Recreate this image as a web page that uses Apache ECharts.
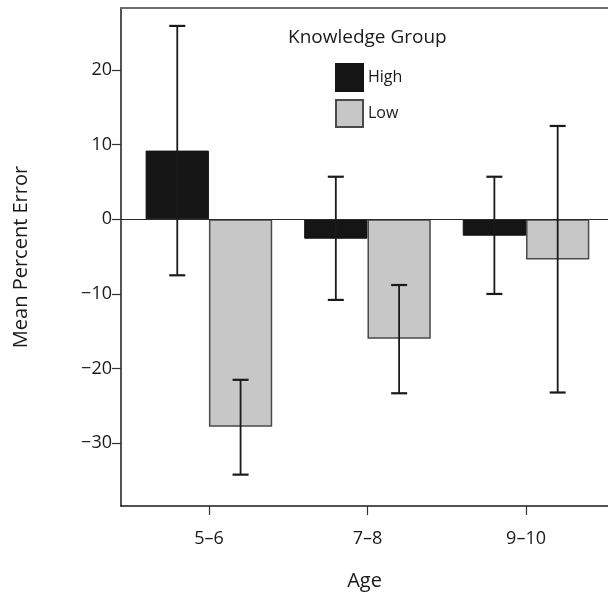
<!DOCTYPE html>
<html>
<head>
<meta charset="utf-8">
<script src="https://cdn.jsdelivr.net/npm/echarts@6/dist/echarts.min.js"></script>
<style>html,body{margin:0;padding:0;background:#fff;}#c{width:608px;height:594px;}</style>
</head>
<body>
<div id="c"></div>
<script>
const categories = ['5–6', '7–8', '9–10'];
const categoryPositions = [1, 2, 3];
const highMean = [9.2, -2.6, -2.2];
const highLower = [-7.5, -10.8, -10.0];
const highUpper = [25.9, 5.7, 5.7];
const lowMean = [-27.8, -16.0, -5.4];
const lowLower = [-34.2, -23.3, -23.2];
const lowUpper = [-21.5, -8.8, 12.5];
const yTicks = [-30, -20, -10, 0, 10, 20];
const seriesNames = ['High', 'Low'];

const FONT = 'Open Sans';
const BAR_W = 63.3;

function errData(lower, upper) {
  return categoryPositions.map((x, i) => [x, lower[i], upper[i]]);
}
function errRender(sign) {
  return function (params, api) {
    const x = api.value(0);
    const a = api.coord([x, api.value(2)]);
    const b = api.coord([x, api.value(1)]);
    const cx = a[0] + sign * BAR_W / 2;
    const cap = 8;
    return {
      type: 'group',
      children: [
        { type: 'line', shape: { x1: cx, y1: a[1], x2: cx, y2: b[1] }, style: { stroke: '#1a1a1a', lineWidth: 1.8 } },
        { type: 'line', shape: { x1: cx - cap, y1: a[1], x2: cx + cap, y2: a[1] }, style: { stroke: '#1a1a1a', lineWidth: 2.2 } },
        { type: 'line', shape: { x1: cx - cap, y1: b[1], x2: cx + cap, y2: b[1] }, style: { stroke: '#1a1a1a', lineWidth: 2.2 } }
      ]
    };
  };
}

const chart = echarts.init(document.getElementById('c'), null, { renderer: 'canvas' });
const xMin = 0.4455, xMax = 3.517;
chart.setOption({
  animation: false,
  backgroundColor: '#fff',
  textStyle: { fontFamily: FONT },
  title: {
    text: 'Knowledge Group',
    left: 283, top: 23,
    textStyle: { fontFamily: FONT, fontSize: 19, fontWeight: 'normal', color: '#1a1a1a' }
  },
  legend: {
    data: seriesNames,
    orient: 'vertical',
    left: 330, top: 58,
    itemWidth: 27, itemHeight: 27, itemGap: 7,
    icon: 'rect',
    textStyle: { fontFamily: FONT, fontSize: 16, color: '#1a1a1a' }
  },
  grid: { left: 121, right: 0, top: 8, bottom: 88, containLabel: false, outerBoundsMode: 'none' },
  xAxis: [{
    type: 'value',
    min: xMin, max: xMax,
    position: 'bottom',
    name: 'Age',
    nameLocation: 'middle',
    nameGap: 65,
    nameTextStyle: { fontFamily: FONT, fontSize: 20, color: '#1a1a1a' },
    axisLine: { show: true, onZero: false, lineStyle: { color: '#1a1a1a', width: 1.5 } },
    axisTick: { show: true, inside: false, length: 9, customValues: categoryPositions, lineStyle: { color: '#333', width: 1.2 } },
    axisLabel: {
      customValues: categoryPositions,
      margin: 24,
      fontFamily: FONT, fontSize: 18, color: '#1a1a1a',
      formatter: function (v) { return categories[categoryPositions.indexOf(Math.round(v))] || ''; }
    },
    splitLine: { show: false }
  }, {
    type: 'value',
    min: xMin, max: xMax,
    position: 'top',
    axisLine: { show: true, onZero: false, lineStyle: { color: '#6e6e6e', width: 2 } },
    axisTick: { show: false },
    axisLabel: { show: false },
    splitLine: { show: false }
  }],
  yAxis: {
    type: 'value',
    min: -38.4, max: 28.3,
    name: 'Mean Percent Error',
    nameLocation: 'middle',
    nameGap: 90,
    nameTextStyle: { fontFamily: FONT, fontSize: 20, color: '#1a1a1a' },
    axisLine: { show: true, onZero: false, lineStyle: { color: '#1a1a1a', width: 1.5 } },
    axisTick: { show: true, inside: false, length: 9, customValues: yTicks, lineStyle: { color: '#333', width: 1.2 } },
    axisLabel: {
      customValues: yTicks,
      margin: 9,
      fontFamily: FONT, fontSize: 18, color: '#1a1a1a',
      formatter: function (v) { return String(v).replace('-', '\u2212'); }
    },
    splitLine: { show: false }
  },
  series: [{
    name: 'High',
    type: 'bar',
    xAxisIndex: 0,
    barWidth: BAR_W,
    barGap: '0%',
    data: categoryPositions.map((x, i) => [x, highMean[i]]),
    itemStyle: { color: '#151515', borderColor: '#151515', borderWidth: 1 },
    markLine: {
      silent: true,
      symbol: 'none',
      label: { show: false },
      lineStyle: { color: '#2a2a2a', width: 1.2, type: 'solid' },
      data: [{ yAxis: 0 }]
    }
  }, {
    name: 'Low',
    type: 'bar',
    xAxisIndex: 0,
    barWidth: BAR_W,
    barGap: '0%',
    data: categoryPositions.map((x, i) => [x, lowMean[i]]),
    itemStyle: { color: '#c6c7c6', borderColor: '#4a4a4a', borderWidth: 1.5 }
  }, {
    type: 'custom',
    z: 10,
    xAxisIndex: 0,
    renderItem: errRender(-1),
    data: errData(highLower, highUpper)
  }, {
    type: 'custom',
    z: 10,
    xAxisIndex: 0,
    renderItem: errRender(1),
    data: errData(lowLower, lowUpper)
  }]
});
</script>
</body>
</html>
